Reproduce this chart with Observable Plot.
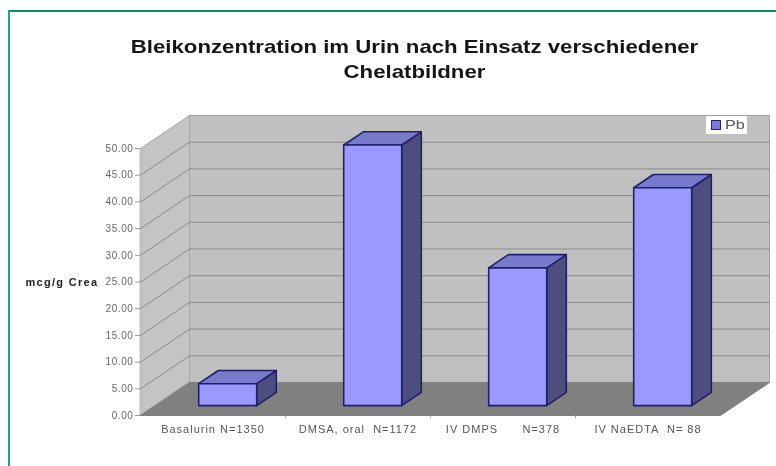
<!DOCTYPE html>
<html>
<head>
<meta charset="utf-8">
<script src="https://cdn.jsdelivr.net/npm/d3@7"></script>
<script src="https://cdn.jsdelivr.net/npm/@observablehq/plot@0.6"></script>
<style>
  html, body { margin: 0; padding: 0; background: #fff; overflow: hidden; }
  #stage { position: relative; width: 776px; height: 466px; font-family: "Liberation Sans", Arial, sans-serif; filter: blur(0.45px); }
  #border { position: absolute; left: 8px; top: 10px; right: 0; bottom: 0; border-left: 2px solid #2f9f80; border-top: 2px solid #0f8a62; }
  #title { position: absolute; left: 8px; width: 813px; top: 34px; text-align: center; font-weight: bold; font-size: 18.5px; line-height: 25px; color: #151515; transform: scaleX(1.2); }
  #legend { position: absolute; left: 706px; top: 116px; width: 41px; height: 18px; background: #fff; color: #555; font-size: 12px; line-height: 18px; }
  #legend i { position: absolute; left: 5px; top: 4px; width: 8px; height: 8px; background: #7a7ad8; border: 1px solid #24246e; }
  #legend span { position: absolute; left: 19px; top: 0; transform: scaleX(1.35); transform-origin: left center; }
  svg { position: absolute; left: 0; top: 0; overflow: visible; }
  svg text { white-space: pre; }
  svg [aria-label="y-axis tick label"] { letter-spacing: 0.6px; }
  svg [aria-label="x-axis tick label"] { letter-spacing: 1px; }
  svg [aria-label="text"] { letter-spacing: 1.3px; }
</style>
</head>
<body>
<div id="stage">
  <div id="border"></div>
  <div id="chart"></div>
  <div id="title">Bleikonzentration im Urin nach Einsatz verschiedener<br>Chelatbildner</div>
  <div id="legend"><i></i><span>Pb</span></div>
</div>
<script>
const categories = ["Basalurin N=1350", "DMSA, oral  N=1172", "IV DMPS      N=378", "IV NaEDTA  N= 88"];
const values = [4.1, 48.8, 25.8, 40.8];
const yTicks = [0, 5, 10, 15, 20, 25, 30, 35, 40, 45, 50];
const seriesName = "Pb";
const yLabel = "mcg/g Crea";

// Oblique 3D box: depth 0 = front of the floor, depth 1 = back wall.
const depthX = 0.338;
const depthY = 6.18;
const P = (u, d, v) => ({x: u + d * depthX, y: v + d * depthY});
const n = categories.length;
const vMax = yTicks[yTicks.length - 1];

const poly = (corners, fill, stroke, strokeWidth = 1) =>
  Plot.line(corners.map(c => P(...c)), {
    x: "x", y: "y", curve: "linear-closed", fill, stroke, strokeWidth, strokeLinejoin: "round"
  });

const marks = [
  // walls and floor
  poly([[0,1,0],[n,1,0],[n,1,vMax],[0,1,vMax]], "#c0c0c0", "#a0a0a0"),
  poly([[0,0,0],[0,1,0],[0,1,vMax],[0,0,vMax]], "#c4c4c4", "#a8a8a8"),
  poly([[0,0,0],[n,0,0],[n,1,0],[0,1,0]], "#808080", "#808080"),
  // grid on the back wall
  ...yTicks.filter(t => t > 0 && t < vMax).map(t =>
    Plot.line([P(0,1,t), P(n,1,t)], {x: "x", y: "y", stroke: "#8a8a8a", strokeWidth: 1})),
  // grid on the side wall
  ...yTicks.filter(t => t > 0 && t < vMax).map(t =>
    Plot.line([P(0,0,t), P(0,1,t)], {x: "x", y: "y", stroke: "#8a8a8a", strokeWidth: 1})),
  // bars
  ...values.flatMap((v, i) => {
    const a = i + 0.3, b = i + 0.7, d0 = 0.3, d1 = 0.7;
    const sw = 1.6, ink = "#20206a";
    return [
      poly([[b,d0,0],[b,d1,0],[b,d1,v],[b,d0,v]], "#4d4d80", ink, sw),
      poly([[a,d0,v],[b,d0,v],[b,d1,v],[a,d1,v]], "#7a7acc", ink, sw),
      poly([[a,d0,0],[b,d0,0],[b,d0,v],[a,d0,v]], "#9999ff", ink, sw)
    ];
  }),
  // axes
  Plot.axisY({
    ticks: yTicks, tickFormat: d3.format(".2f"), tickSize: 5, tickPadding: 2, label: null,
    fontSize: 10, fill: "#666", stroke: "#999"
  }),
  Plot.axisX({
    ticks: categories.map((_, i) => i + 0.5), tickFormat: (_, i) => categories[i],
    tickSize: 0, tickPadding: 10, label: null,
    fontSize: 11, fill: "#555"
  }),
  Plot.ruleX(d3.range(1, n), {x: d => d, y1: 0, y2: -0.6, stroke: "#aaa", strokeWidth: 1}),
  Plot.text([yLabel], {
    frameAnchor: "left", y: 25, dx: -115, textAnchor: "start",
    fontSize: 11, fontWeight: "bold", fill: "#222"
  })
];

const chart = Plot.plot({
  width: 776, height: 466,
  marginLeft: 140, marginRight: 56, marginTop: 148, marginBottom: 51,
  x: {type: "linear", domain: [0, n], axis: null},
  y: {type: "linear", domain: [0, vMax], axis: null},
  style: {background: "transparent", fontFamily: "'Liberation Sans', Arial, sans-serif"},
  marks
});
document.getElementById("chart").appendChild(chart);
</script>
</body>
</html>
